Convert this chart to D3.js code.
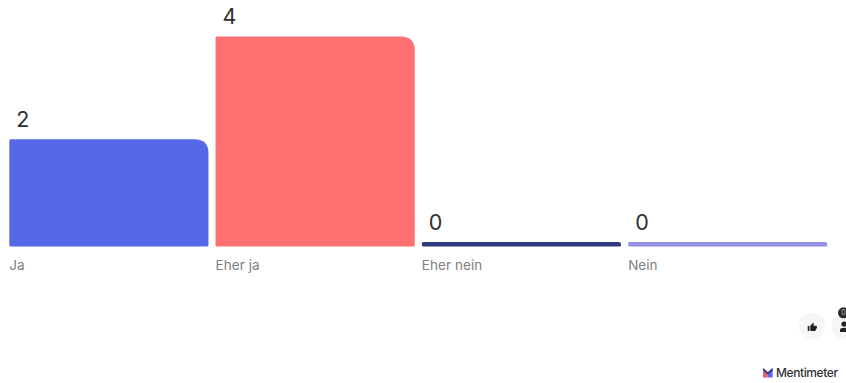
<!DOCTYPE html>
<html>
<head>
<meta charset="utf-8">
<script src="https://cdn.jsdelivr.net/npm/d3@7"></script>
<style>
html,body{margin:0;padding:0;background:#fff;overflow:hidden}
svg{display:block}
text{font-family:Inter,"Open Sans",sans-serif}
</style>
</head>
<body>
<svg id="chart" width="846" height="383"></svg>
<script>
const categories = ["Ja", "Eher ja", "Eher nein", "Nein"];
const votes = [2, 4, 0, 0];
const barColors = ["#5569e6", "#ff7070", "#2f3a80", "#9490e4"];

const svg = d3.select("#chart");
const x = d3.scaleBand().domain(categories).range([9.3, 827.3]).paddingInner(0.0345).paddingOuter(0);
const y = d3.scaleLinear().domain([0, 4]).range([242, 36.5]);
const floorHeight = 4.5;
const radius = 14;
const smallRadius = 1.5;

// Large curve on the top-right corner, barely rounded elsewhere
function barPath(v, c) {
  const l = x(c), r = l + x.bandwidth(), b = y(0) + floorHeight, t = y(v);
  const big = Math.min(radius, (b - t) / 2);
  const s = Math.min(smallRadius, (b - t) / 2);
  const p = d3.path();
  p.moveTo(l + s, b);
  p.quadraticCurveTo(l, b, l, b - s);
  p.lineTo(l, t + s);
  p.quadraticCurveTo(l, t, l + s, t);
  p.lineTo(r - big, t);
  p.quadraticCurveTo(r, t, r, t + big);
  p.lineTo(r, b - s);
  p.quadraticCurveTo(r, b, r - s, b);
  p.closePath();
  return p.toString();
}

svg.selectAll("path.bar").data(categories).join("path")
  .attr("class", "bar")
  .attr("d", (c, i) => barPath(votes[i], c))
  .attr("fill", (c, i) => barColors[i]);

svg.selectAll("text.value").data(categories).join("text")
  .attr("class", "value")
  .attr("x", c => x(c) + 7)
  .attr("y", (c, i) => y(votes[i]) - 12.5)
  .attr("font-size", 21.5)
  .attr("fill", "#303030")
  .text((c, i) => votes[i]);

svg.selectAll("text.cat").data(categories).join("text")
  .attr("class", "cat")
  .attr("x", c => x(c))
  .attr("y", 270)
  .attr("font-size", 13.5)
  .attr("letter-spacing", 0.05)
  .attr("fill", "#808080")
  .text(c => c);

// Reaction buttons, bottom right
const buttons = svg.append("g");
[812, 845].forEach(cx => buttons.append("circle").attr("cx", cx).attr("cy", 326).attr("r", 13.3).attr("fill", "#f6f6f6"));
buttons.append("path")
  .attr("transform", "translate(807.3,322.3) scale(0.42)")
  .attr("fill", "#222")
  .attr("d", "M1 21h4V9H1v12zm22-11c0-1.1-.9-2-2-2h-6.3l1-4.6v-.3c0-.4-.2-.8-.4-1.1L14.2 1 7.6 7.6C7.2 8 7 8.5 7 9v10c0 1.1.9 2 2 2h9c.8 0 1.5-.5 1.8-1.2l3-7c.1-.2.2-.5.2-.8v-2z");
buttons.append("circle").attr("cx", 844).attr("cy", 324).attr("r", 2.6).attr("fill", "#222");
buttons.append("path").attr("d", "M840 332v-2q0-2.3 4-2.3t4 2.3v2z").attr("fill", "#222");
buttons.append("circle").attr("cx", 843.5).attr("cy", 312.8).attr("r", 5.5).attr("fill", "#2a2a2a");
buttons.append("text").attr("x", 843.5).attr("y", 315.3).attr("font-size", 7).attr("text-anchor", "middle").attr("fill", "#bbb").text("0");

// Wordmark, bottom right
const logo = svg.append("g");
logo.append("path").attr("d", "M763 368l4.8 4.2v5.3h-4.8z").attr("fill", "#e8606a");
logo.append("path").attr("d", "M767.8 372.2l4.8-4.2v9.5h-4.8z").attr("fill", "#5569e6");
logo.append("path").attr("d", "M763 368l4.8 4.2l4.8-4.2v2.4l-4.8 4.2l-4.8-4.2z").attr("fill", "#2f3a80");
logo.append("text").attr("x", 776).attr("y", 377).attr("font-size", 12).attr("font-weight", 500)
  .attr("letter-spacing", -0.4).attr("fill", "#333").text("Mentimeter");
</script>
</body>
</html>
